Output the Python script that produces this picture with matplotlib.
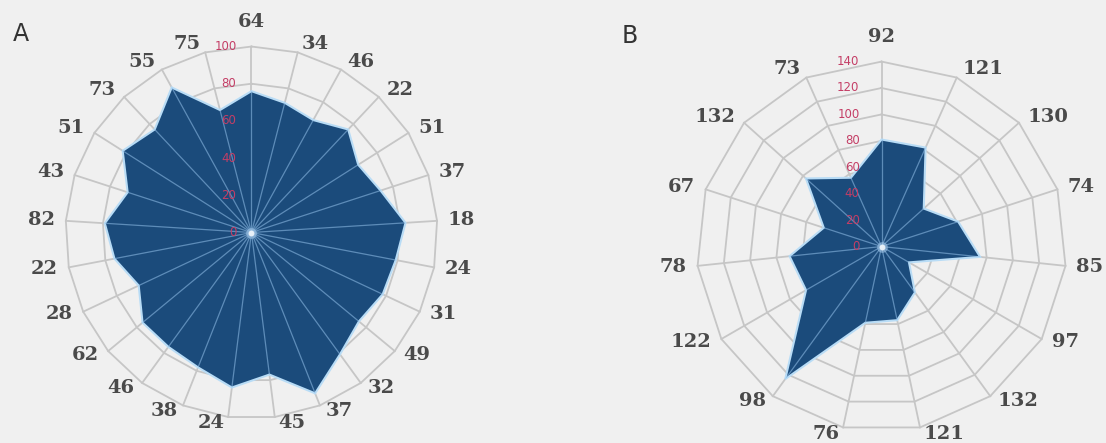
import numpy as np
import matplotlib.pyplot as plt

# panel A: 25 categories, radial scale 0-100
a_labels = ["64", "34", "46", "22", "51", "37", "18", "24", "31", "49", "32", "37", "45",
            "24", "38", "46", "62", "28", "22", "82", "43", "51", "73", "55", "75"]
a_values = [76, 72, 69, 76, 68, 73, 83, 79, 78, 75, 81, 93, 77,
            84, 78, 76, 76, 67, 75, 79, 70, 82, 76, 89, 68]
a_ticks = [0, 20, 40, 60, 80, 100]

# panel B: 15 categories, radial scale 0-140
b_labels = ["92", "121", "130", "74", "85", "97", "132", "121", "76", "98", "122", "78",
            "67", "132", "73"]
b_values = [81, 82, 43, 61, 75, 24, 43, 57, 59, 124, 66, 70, 46, 77, 57]
b_ticks = [0, 20, 40, 60, 80, 100, 120, 140]

bg = "#f0f0f0"
grid_color = "#c6c6c6"
fill_color = "#1b4b7b"
edge_color = "#b8dcf6"
label_color = "#4a4a4a"
tick_color = "#c43e66"


def radar(ax, labels, values, ticks, tick_dx):
    n = len(labels)
    theta = np.linspace(0, 2 * np.pi, n, endpoint=False)
    th_closed = np.append(theta, theta[0])
    rmax = ticks[-1]

    ax.set_theta_offset(np.pi / 2)
    ax.set_theta_direction(-1)
    ax.set_ylim(0, rmax)
    ax.set_facecolor("none")
    ax.grid(False)
    ax.set_xticks([])
    ax.set_yticks([])
    ax.spines["polar"].set_visible(False)

    # polygon rings and spokes
    for t in ticks[1:]:
        ax.plot(th_closed, [t] * (n + 1), color=grid_color, lw=1.3, zorder=1, clip_on=False)
    for th in theta:
        ax.plot([th, th], [0, rmax], color=grid_color, lw=1.3, zorder=1, clip_on=False)

    vals = np.append(values, values[0])
    poly = ax.fill(th_closed, vals, facecolor=fill_color, edgecolor=edge_color,
                   lw=1.5, zorder=3)[0]

    # light spokes showing through the fill
    for th in theta:
        ln, = ax.plot([th, th], [0, rmax], color="#8ab8e2", lw=0.9, alpha=0.6, zorder=4)
        ln.set_clip_path(poly)

    ax.scatter([0], [0], s=60, color="#9fc4e6", alpha=0.6, zorder=5, lw=0)
    ax.scatter([0], [0], s=18, color="white", alpha=0.8, zorder=6, lw=0)

    # category labels placed beside the spoke ends, excel style
    for th, lab in zip(theta, labels):
        a = np.pi / 2 - th
        c, s = np.cos(a), np.sin(a)
        if abs(c) < 1e-6:
            off = (0, 25)
            ha = "center"
        else:
            pad = 2 + 9 * abs(c)
            dy = 9 * s if s > 0 else 6.5 * s
            off = (pad * np.sign(c), dy)
            ha = "left" if c > 0 else "right"
        ax.annotate(lab, xy=(th, rmax), xytext=off, textcoords="offset pixels",
                    ha=ha, va="center", fontsize=14, family="DejaVu Serif",
                    fontweight="bold", color=label_color, annotation_clip=False)

    for t in ticks:
        ax.annotate(str(t), xy=(0, t), xytext=(tick_dx, 0), textcoords="offset pixels",
                    ha="right", va="center", fontsize=8.5, color=tick_color, zorder=7)


fig = plt.figure(figsize=(11.06, 4.43), dpi=100)
fig.patch.set_facecolor(bg)

ax_a = fig.add_axes([0.0592, 0.0553, 0.3363, 0.8397], projection="polar")
radar(ax_a, a_labels, a_values, a_ticks, -15)

ax_b = fig.add_axes([0.6298, 0.026, 0.3345, 0.835], projection="polar")
radar(ax_b, b_labels, b_values, b_ticks, -22)

fig.text(21 / 1106, 1 - 34 / 443, "A", fontsize=17, color="#333333", ha="center", va="center")
fig.text(630 / 1106, 1 - 36 / 443, "B", fontsize=17, color="#333333", ha="center", va="center")

fig.savefig("out.png", dpi=100, facecolor=bg)
